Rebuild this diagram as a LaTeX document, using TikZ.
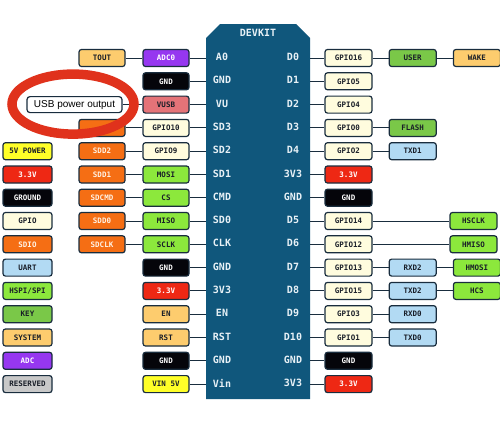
\documentclass[tikz,border=0pt]{standalone}
\usepackage{fontspec}
\setmainfont{Liberation Sans}
\newfontfamily\pinmono{DejaVu Sans Mono}
\usetikzlibrary{positioning}

\definecolor{edge}{RGB}{25,45,62}
\definecolor{boardblue}{RGB}{16,87,124}
\definecolor{boardtext}{RGB}{232,241,246}
\definecolor{darktxt}{RGB}{25,30,40}
\definecolor{gpiocol}{RGB}{255,252,222}
\definecolor{gndcol}{RGB}{5,5,10}
\definecolor{powcol}{RGB}{238,40,20}
\definecolor{fivecol}{RGB}{255,255,40}
\definecolor{sdiocol}{RGB}{245,110,20}
\definecolor{uartcol}{RGB}{178,218,243}
\definecolor{spicol}{RGB}{140,232,60}
\definecolor{keycol}{RGB}{122,200,72}
\definecolor{syscol}{RGB}{253,204,110}
\definecolor{adccol}{RGB}{150,55,240}
\definecolor{rescol}{RGB}{200,200,200}
\definecolor{vusbcol}{RGB}{228,115,120}
\definecolor{ringcol}{RGB}{224,50,28}

\tikzset{
  pinbox/.style={draw=edge,line width=1.2pt,rounded corners=2.5pt,minimum width=46pt,minimum height=17pt,inner sep=0pt,text=darktxt,font=\pinmono\bfseries\fontsize{7.5}{8}\selectfont},
  cgpio/.style={pinbox,fill=gpiocol},
  cgnd/.style={pinbox,fill=gndcol,text=white},
  cpow/.style={pinbox,fill=powcol,text=white},
  cfive/.style={pinbox,fill=fivecol},
  csdio/.style={pinbox,fill=sdiocol,text=white!90!orange},
  cuart/.style={pinbox,fill=uartcol},
  cspi/.style={pinbox,fill=spicol},
  ckey/.style={pinbox,fill=keycol},
  csys/.style={pinbox,fill=syscol},
  cadc/.style={pinbox,fill=adccol,text=white},
  cres/.style={pinbox,fill=rescol},
  cvusb/.style={pinbox,fill=vusbcol},
  legend/.style={minimum width=49pt},
  note/.style={draw=edge,line width=1.2pt,rounded corners=3pt,fill=white,minimum width=95pt,minimum height=16pt,inner sep=0pt,font=\fontsize{10}{11}\selectfont},
  wire/.style={draw=edge,line width=1pt},
  plbl/.style={text=boardtext,font=\pinmono\bfseries\fontsize{10}{11}\selectfont}
}

\begin{document}
\begin{tikzpicture}[x=1pt,y=-1pt]
\useasboundingbox (0,0) rectangle (500,421);

\fill[boardblue] (206,38) -- (220,24) -- (296,24) -- (310,38) -- (310,399) -- (206,399) -- cycle;
\coordinate (bw) at (206,0);
\coordinate (be) at (310,0);
\node[plbl] (devkit) at (258,33) {DEVKIT};

\node[plbl] (pa0) at (222,57) {A0};
\node[plbl] (pgnd1) at (222,80.3) {GND};
\node[plbl] (pvu) at (222,103.6) {VU};
\node[plbl] (psd3) at (222,126.9) {SD3};
\node[plbl] (psd2) at (222,150.2) {SD2};
\node[plbl] (psd1) at (222,173.5) {SD1};
\node[plbl] (pcmd) at (222,196.7) {CMD};
\node[plbl] (psd0) at (222,220) {SD0};
\node[plbl] (pclk) at (222,243.3) {CLK};
\node[plbl] (pgnd2) at (222,266.6) {GND};
\node[plbl] (p3v3a) at (222,289.9) {3V3};
\node[plbl] (pen) at (222,313.2) {EN};
\node[plbl] (prst) at (222,336.5) {RST};
\node[plbl] (pgnd3) at (222,359.8) {GND};
\node[plbl] (pvin) at (222,383.1) {Vin};

\node[plbl] (pd0) at (293,57) {D0};
\node[plbl] (pd1) at (293,80.3) {D1};
\node[plbl] (pd2) at (293,103.6) {D2};
\node[plbl] (pd3) at (293,126.9) {D3};
\node[plbl] (pd4) at (293,150.2) {D4};
\node[plbl] (p3v3b) at (293,173.5) {3V3};
\node[plbl] (pgnd4) at (293,196.7) {GND};
\node[plbl] (pd5) at (293,220) {D5};
\node[plbl] (pd6) at (293,243.3) {D6};
\node[plbl] (pd7) at (293,266.6) {D7};
\node[plbl] (pd8) at (293,289.9) {D8};
\node[plbl] (pd9) at (293,313.2) {D9};
\node[plbl] (pd10) at (293,336.5) {D10};
\node[plbl] (pgnd5) at (293,359.8) {GND};
\node[plbl] (p3v3c) at (293,383.1) {3V3};

\node[csys] (tout) at (102,58) {TOUT};
\node[cadc] (adc0) at (166,58) {ADC0};
\node[cgnd] (gndl1) at (166,81.3) {GND};
\node[note] (usbout) at (74.5,104.6) {USB power output};
\node[cvusb] (vusb) at (166,104.6) {VUSB};
\node[csdio] (sdd3) at (102,127.9) {};
\node[cgpio] (gpio10) at (166,127.9) {GPIO10};
\node[csdio] (sdd2) at (102,151.2) {SDD2};
\node[cgpio] (gpio9) at (166,151.2) {GPIO9};
\node[csdio] (sdd1) at (102,174.5) {SDD1};
\node[cspi] (mosi) at (166,174.5) {MOSI};
\node[csdio] (sdcmd) at (102,197.7) {SDCMD};
\node[cspi] (cs) at (166,197.7) {CS};
\node[csdio] (sdd0) at (102,221) {SDD0};
\node[cspi] (miso) at (166,221) {MISO};
\node[csdio] (sdclk) at (102,244.3) {SDCLK};
\node[cspi] (sclk) at (166,244.3) {SCLK};
\node[cgnd] (gndl2) at (166,267.6) {GND};
\node[cpow] (powl) at (166,290.9) {3.3V};
\node[csys] (en) at (166,314.2) {EN};
\node[csys] (rst) at (166,337.5) {RST};
\node[cgnd] (gndl3) at (166,360.8) {GND};
\node[cfive] (vin) at (166,384.1) {VIN 5V};

\node[cgpio,minimum width=47pt] (gpio16) at (348.5,58) {GPIO16};
\node[ckey,minimum width=47pt,right=16pt of gpio16] (user) {USER};
\node[csys,minimum width=47pt,right=16pt of user] (wake) {WAKE};
\node[cgpio,minimum width=47pt] (gpio5) at (348.5,81.3) {GPIO5};
\node[cgpio,minimum width=47pt] (gpio4) at (348.5,104.6) {GPIO4};
\node[cgpio,minimum width=47pt] (gpio0) at (348.5,127.9) {GPIO0};
\node[ckey,minimum width=47pt,right=16pt of gpio0] (flash) {FLASH};
\node[cgpio,minimum width=47pt] (gpio2) at (348.5,151.2) {GPIO2};
\node[cuart,minimum width=47pt,right=16pt of gpio2] (txd1) {TXD1};
\node[cpow,minimum width=47pt] (powr1) at (348.5,174.5) {3.3V};
\node[cgnd,minimum width=47pt] (gndr1) at (348.5,197.7) {GND};
\node[cgpio,minimum width=47pt] (gpio14) at (348.5,221) {GPIO14};
\node[cspi,minimum width=47pt] (hsclk) at (473.5,221) {HSCLK};
\node[cgpio,minimum width=47pt] (gpio12) at (348.5,244.3) {GPIO12};
\node[cspi,minimum width=47pt] (hmiso) at (473.5,244.3) {HMISO};
\node[cgpio,minimum width=47pt] (gpio13) at (348.5,267.6) {GPIO13};
\node[cuart,minimum width=47pt,right=16pt of gpio13] (rxd2) {RXD2};
\node[cspi,minimum width=47pt,right=16pt of rxd2] (hmosi) {HMOSI};
\node[cgpio,minimum width=47pt] (gpio15) at (348.5,290.9) {GPIO15};
\node[cuart,minimum width=47pt,right=16pt of gpio15] (txd2) {TXD2};
\node[cspi,minimum width=47pt,right=16pt of txd2] (hcs) {HCS};
\node[cgpio,minimum width=47pt] (gpio3) at (348.5,314.2) {GPIO3};
\node[cuart,minimum width=47pt,right=16pt of gpio3] (rxd0) {RXD0};
\node[cgpio,minimum width=47pt] (gpio1) at (348.5,337.5) {GPIO1};
\node[cuart,minimum width=47pt,right=16pt of gpio1] (txd0) {TXD0};
\node[cgnd,minimum width=47pt] (gndr2) at (348.5,360.8) {GND};
\node[cpow,minimum width=47pt] (powr2) at (348.5,384.1) {3.3V};

\node[cfive,legend] (lfive) at (27.5,151.2) {5V POWER};
\node[cpow,legend] (lpow) at (27.5,174.5) {3.3V};
\node[cgnd,legend] (lgnd) at (27.5,197.7) {GROUND};
\node[cgpio,legend] (lgpio) at (27.5,221) {GPIO};
\node[csdio,legend] (lsdio) at (27.5,244.3) {SDIO};
\node[cuart,legend] (luart) at (27.5,267.6) {UART};
\node[cspi,legend] (lspi) at (27.5,290.9) {HSPI/SPI};
\node[ckey,legend] (lkey) at (27.5,314.2) {KEY};
\node[csys,legend] (lsys) at (27.5,337.5) {SYSTEM};
\node[cadc,legend] (ladc) at (27.5,360.8) {ADC};
\node[cres,legend] (lres) at (27.5,384.1) {RESERVED};

\draw[wire] (tout) -- (adc0);
\draw[wire] (adc0) -- (adc0 -| bw);
\draw[wire] (gndl1) -- (gndl1 -| bw);
\draw[wire] (usbout) -- (vusb);
\draw[wire] (vusb) -- (vusb -| bw);
\draw[wire] (sdd3) -- (gpio10);
\draw[wire] (gpio10) -- (gpio10 -| bw);
\draw[wire] (sdd2) -- (gpio9);
\draw[wire] (gpio9) -- (gpio9 -| bw);
\draw[wire] (sdd1) -- (mosi);
\draw[wire] (mosi) -- (mosi -| bw);
\draw[wire] (sdcmd) -- (cs);
\draw[wire] (cs) -- (cs -| bw);
\draw[wire] (sdd0) -- (miso);
\draw[wire] (miso) -- (miso -| bw);
\draw[wire] (sdclk) -- (sclk);
\draw[wire] (sclk) -- (sclk -| bw);
\draw[wire] (gndl2) -- (gndl2 -| bw);
\draw[wire] (powl) -- (powl -| bw);
\draw[wire] (en) -- (en -| bw);
\draw[wire] (rst) -- (rst -| bw);
\draw[wire] (gndl3) -- (gndl3 -| bw);
\draw[wire] (vin) -- (vin -| bw);

\draw[wire] (gpio16 -| be) -- (gpio16) -- (user) -- (wake);
\draw[wire] (gpio5 -| be) -- (gpio5);
\draw[wire] (gpio4 -| be) -- (gpio4);
\draw[wire] (gpio0 -| be) -- (gpio0) -- (flash);
\draw[wire] (gpio2 -| be) -- (gpio2) -- (txd1);
\draw[wire] (powr1 -| be) -- (powr1);
\draw[wire] (gndr1 -| be) -- (gndr1);
\draw[wire] (gpio14 -| be) -- (gpio14) -- (hsclk);
\draw[wire] (gpio12 -| be) -- (gpio12) -- (hmiso);
\draw[wire] (gpio13 -| be) -- (gpio13) -- (rxd2) -- (hmosi);
\draw[wire] (gpio15 -| be) -- (gpio15) -- (txd2) -- (hcs);
\draw[wire] (gpio3 -| be) -- (gpio3) -- (rxd0);
\draw[wire] (gpio1 -| be) -- (gpio1) -- (txd0);
\draw[wire] (gndr2 -| be) -- (gndr2);
\draw[wire] (powr2 -| be) -- (powr2);

\draw[ringcol,line width=9.5pt] (usbout.center) ++(-1.5,-0.5) ellipse [x radius=61pt,y radius=30pt];
\end{tikzpicture}
\end{document}
